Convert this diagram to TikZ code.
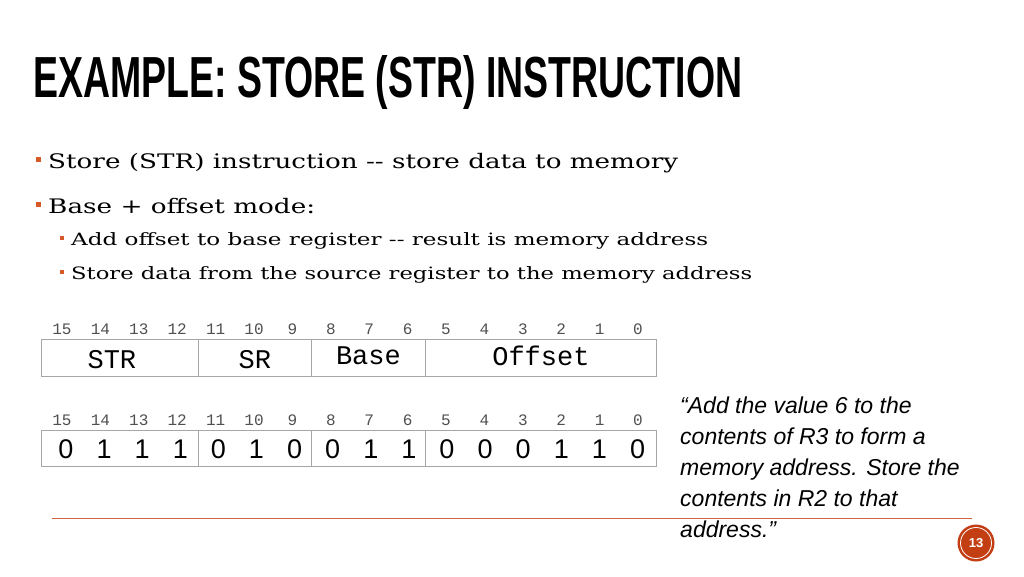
\documentclass[tikz,border=0pt]{standalone}
\usepackage{fontspec}
\setmainfont{DejaVu Serif}
\newfontfamily\quotefont{Liberation Sans}
\newfontfamily\bitfont{Liberation Sans}
\newfontfamily\typefont{Liberation Mono}
\definecolor{rust}{RGB}{196,62,20}
\definecolor{bulletor}{RGB}{214,90,40}
\definecolor{numgray}{RGB}{80,80,80}

\begin{document}
\begin{tikzpicture}[x=1pt,y=-1pt]
    \tikzset{bullet/.style = {fill=bulletor,minimum size=5pt,inner sep=0pt}}
    \tikzset{subbullet/.style = {fill=bulletor,minimum size=4pt,inner sep=0pt}}
    \tikzset{bodytext/.style = {anchor=base west,inner sep=0pt,font=\fontsize{20}{24}\selectfont}}
    \tikzset{subtext/.style = {anchor=base west,inner sep=0pt,font=\fontsize{17}{20}\selectfont}}
    \tikzset{bitnum/.style = {anchor=base,inner sep=0pt,text=numgray,font=\typefont\fontsize{16}{18}\selectfont}}
    \tikzset{field/.style = {draw=gray!70,line width=0.8pt,inner sep=0pt,anchor=north west}}
    \tikzset{fieldtext/.style = {inner sep=0pt,font=\typefont\fontsize{27}{28}\selectfont}}
    \tikzset{bitval/.style = {anchor=base,inner sep=0pt,font=\bitfont\fontsize{27}{28}\selectfont}}

    \useasboundingbox[fill=white] (0,0) rectangle (1024,576);

    % title
    \node[anchor=base west,inner sep=0pt] (title) at (33,97)
        {\resizebox{709pt}{42pt}{\bitfont\bfseries EXAMPLE: STORE (STR) INSTRUCTION}};

    % bullets
    \node[bullet] (b1) at (38,159) {};
    \node[bodytext] (t1) at (48,168) {\resizebox{630pt}{\height}{Store (STR) instruction -{}- store data to memory}};
    \node[bullet] (b2) at (38,204) {};
    \node[bodytext] (t2) at (48,213) {\resizebox{267pt}{\height}{Base + offset mode:}};
    \node[subbullet] (b3) at (62,238) {};
    \node[subtext] (t3) at (71,245) {\resizebox{637pt}{\height}{Add offset to base register -{}- result is memory address}};
    \node[subbullet] (b4) at (62,272) {};
    \node[subtext] (t4) at (71,279) {\resizebox{681pt}{\height}{Store data from the source register to the memory address}};

    % bit numbers
    \foreach \i in {0,...,15} {
        \pgfmathsetmacro{\bx}{62+\i*38.4}
        \pgfmathtruncatemacro{\bn}{15-\i}
        \node[bitnum] (top\i) at (\bx,334) {\bn};
        \node[bitnum] (bot\i) at (\bx,425) {\bn};
    }

    % format fields
    \node[field,minimum width=157pt,minimum height=37pt] (fstr) at (41,339) {};
    \node[field,minimum width=113pt,minimum height=37pt] (fsr) at (198,339) {};
    \node[field,minimum width=114pt,minimum height=37pt] (fbase) at (311,339) {};
    \node[field,minimum width=231pt,minimum height=37pt] (foff) at (425,339) {};
    \node[fieldtext] at ([xshift=-8pt,yshift=-2pt]fstr.center) {STR};
    \node[fieldtext] at ([yshift=-2pt]fsr.center) {SR};
    \node[fieldtext] at ([yshift=2pt]fbase.center) {Base};
    \node[fieldtext] at ([yshift=2pt]foff.center) {Offset};

    % encoded fields
    \node[field,minimum width=157pt,minimum height=36pt] (estr) at (41,430) {};
    \node[field,minimum width=113pt,minimum height=36pt] (esr) at (198,430) {};
    \node[field,minimum width=114pt,minimum height=36pt] (ebase) at (311,430) {};
    \node[field,minimum width=231pt,minimum height=36pt] (eoff) at (425,430) {};
    \foreach \b [count=\i from 0] in {0,1,1,1,0,1,0,0,1,1,0,0,0,1,1,0} {
        \pgfmathsetmacro{\bx}{66+\i*38.1}
        \node[bitval] (val\i) at (\bx,458) {\b};
    }

    % quote
    \node[anchor=north west,inner sep=0pt,align=left,
          font=\quotefont\itshape\fontsize{23}{31}\selectfont] (quote) at (680,397)
        {“Add the value 6 to the\\contents of R3 to form a\\memory address. Store the\\contents in R2 to that\\address.”};

    % footer
    \coordinate (ruleL) at (52,518);
    \coordinate (ruleR) at (972,518);
    \draw[rust!80,line width=1pt] (ruleL) -- (ruleR);
    \node[circle,fill=rust,minimum size=37pt,inner sep=0pt] (page) at (976,543) {};
    \node[circle,draw=white,line width=0.8pt,minimum size=31pt,inner sep=0pt,
          text=white,font=\bitfont\bfseries\fontsize{13}{13}\selectfont] at (page.center) {13};
\end{tikzpicture}
\end{document}
